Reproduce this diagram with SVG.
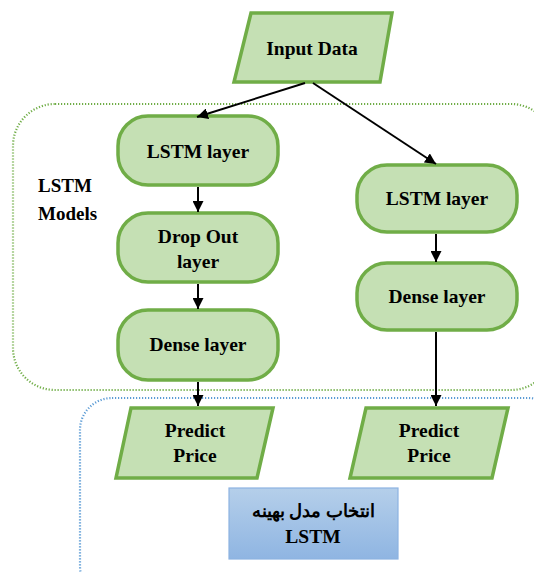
<svg xmlns="http://www.w3.org/2000/svg" width="534" height="572" viewBox="0 0 534 572">
<defs>
<style>
.n{fill:#c5e0b4;stroke:#70ad47;stroke-width:3.5}
.c{stroke:#000;stroke-width:2;fill:none;marker-end:url(#ah)}
</style>
<marker id="ah" viewBox="0 0 10 10" refX="10" refY="5" markerWidth="5.5" markerHeight="5.5" orient="auto" markerUnits="strokeWidth"><path d="M0,0 L10,5 L0,10 z" fill="#000"/></marker>
<linearGradient id="bg" x1="0" y1="0" x2="0" y2="1"><stop offset="0" stop-color="#b5cfea"/><stop offset="1" stop-color="#8fb5e2"/></linearGradient>
</defs>
<rect id="lstm-models" x="13" y="104" width="540" height="286" rx="42" fill="none" stroke="#70ad47" stroke-width="2.2" stroke-dasharray="1.2 1.8"/>
<rect id="selection" x="80" y="398" width="480" height="200" rx="32" fill="none" stroke="#5b9bd5" stroke-width="2.2" stroke-dasharray="1.2 1.8"/>
<g id="label-models"><text font-family="Liberation Serif" font-weight="bold" font-size="19" x="38" y="192">LSTM</text><text font-family="Liberation Serif" font-weight="bold" font-size="19" x="38" y="220">Models</text></g>
<g id="input"><polygon class="n" points="251,13 392,13 380,82 234,82"/><text font-family="Liberation Serif" font-weight="bold" font-size="19.5" text-anchor="middle" x="312" y="55">Input Data</text></g>
<g id="lstm1"><rect class="n" x="118" y="116" width="160" height="69" rx="30"/><text font-family="Liberation Serif" font-weight="bold" font-size="19.5" text-anchor="middle" x="198" y="158">LSTM layer</text></g>
<g id="dropout"><rect class="n" x="118" y="213" width="160" height="69" rx="30"/><text font-family="Liberation Serif" font-weight="bold" font-size="19.5" text-anchor="middle" x="198" y="243">Drop Out</text><text font-family="Liberation Serif" font-weight="bold" font-size="19.5" text-anchor="middle" x="198" y="268">layer</text></g>
<g id="dense1"><rect class="n" x="118" y="310" width="160" height="70" rx="30"/><text font-family="Liberation Serif" font-weight="bold" font-size="19.5" text-anchor="middle" x="198" y="351">Dense layer</text></g>
<g id="lstm2"><rect class="n" x="357" y="165" width="160" height="67" rx="30"/><text font-family="Liberation Serif" font-weight="bold" font-size="19.5" text-anchor="middle" x="437" y="205">LSTM layer</text></g>
<g id="dense2"><rect class="n" x="357" y="263" width="160" height="67" rx="30"/><text font-family="Liberation Serif" font-weight="bold" font-size="19.5" text-anchor="middle" x="437" y="303">Dense layer</text></g>
<g id="pred1"><polygon class="n" points="131,408 273,408 257,478 116,478"/><text font-family="Liberation Serif" font-weight="bold" font-size="19.5" text-anchor="middle" x="195" y="437">Predict</text><text font-family="Liberation Serif" font-weight="bold" font-size="19.5" text-anchor="middle" x="195" y="462">Price</text></g>
<g id="pred2"><polygon class="n" points="366,408 508,408 492,478 350,478"/><text font-family="Liberation Serif" font-weight="bold" font-size="19.5" text-anchor="middle" x="429" y="437">Predict</text><text font-family="Liberation Serif" font-weight="bold" font-size="19.5" text-anchor="middle" x="429" y="462">Price</text></g>
<g id="best"><rect x="229" y="488" width="169" height="71" fill="url(#bg)" stroke="#8db3e2" stroke-width="1.2"/><text font-family="Liberation Serif" font-weight="bold" font-size="18" text-anchor="middle" x="313" y="517" direction="rtl">انتخاب مدل بهینه</text><text font-family="Liberation Serif" font-weight="bold" font-size="19.5" text-anchor="middle" x="313" y="543">LSTM</text></g>
<g id="connectors">
<line class="c" x1="305" y1="83" x2="197" y2="117"/>
<line class="c" x1="313" y1="83" x2="436" y2="164"/>
<line class="c" x1="198" y1="187" x2="198" y2="212"/>
<line class="c" x1="198" y1="284" x2="198" y2="309"/>
<line class="c" x1="198" y1="382" x2="198" y2="406"/>
<line class="c" x1="436" y1="234" x2="436" y2="262"/>
<line class="c" x1="436" y1="332" x2="436" y2="406"/>
</g>
</svg>
